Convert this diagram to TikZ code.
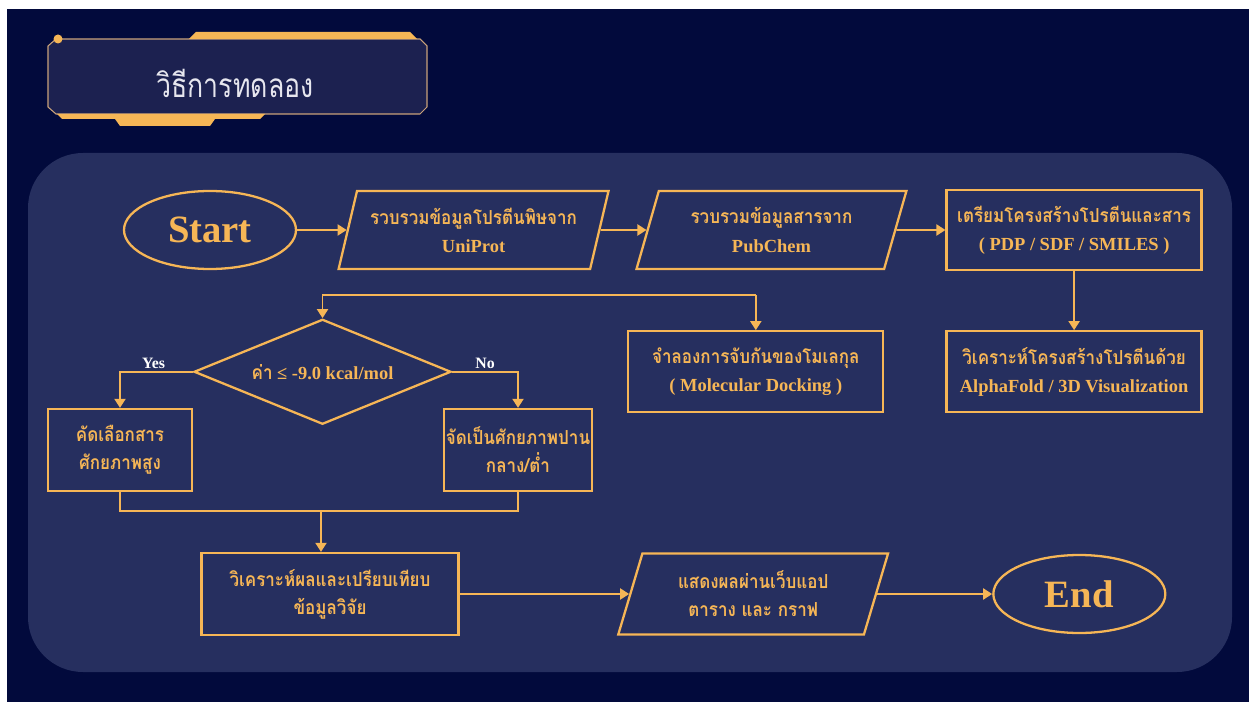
\documentclass[tikz,border=0pt]{standalone}
\usepackage{fontspec}
\setmainfont{Liberation Serif}
\newfontfamily\thaifont[Script=Thai, FakeStretch=0.88]{Loma}
\newfontfamily\titlefont[Script=Thai, FakeStretch=0.8]{Loma}
\usetikzlibrary{shapes.geometric, arrows.meta, positioning}

\definecolor{navybg}{HTML}{020A3C}
\definecolor{panelbg}{HTML}{262F5F}
\definecolor{gold}{HTML}{F6B656}
\definecolor{titlebg}{HTML}{1C2150}
\definecolor{titleline}{HTML}{C9A27A}
\definecolor{titletext}{HTML}{E6E6EE}

\newcommand{\thaitxt}[1]{{\thaifont\bfseries\fontsize{11}{16}\selectfont #1}}

\begin{document}
\begin{tikzpicture}[
    node distance=1.05cm,
    every node/.style={text=gold, font=\bfseries\fontsize{10.5}{16}\selectfont},
    terminal/.style={ellipse, minimum width=3.44cm, minimum height=1.56cm, draw=gold, line width=1.3pt, font=\bfseries\fontsize{22}{26}\selectfont},
    io/.style={trapezium, trapezium left angle=73, trapezium right angle=107, trapezium stretches=true, minimum width=5.4cm, minimum height=1.56cm, draw=gold, line width=1.3pt, align=center},
    process/.style={rectangle, minimum width=5.1cm, minimum height=1.6cm, inner xsep=1pt, draw=gold, line width=1.3pt, align=center},
    smallbox/.style={process, minimum width=2.88cm, minimum height=1.64cm},
    decision/.style={diamond, aspect=2.45, minimum width=5.14cm, minimum height=2.1cm, draw=gold, line width=1.3pt, inner sep=0pt},
    arrow/.style={-{Triangle[length=1.8mm, width=2.2mm]}, draw=gold, line width=1.1pt},
    line/.style={draw=gold, line width=1.1pt},
    answer/.style={text=white, inner sep=1.5pt, font=\bfseries\fontsize{9}{10}\selectfont}
]

% Background and panel
\useasboundingbox (0,0) rectangle (24.98,-14.04);
\fill[white] (0,0) rectangle (24.98,-14.04);
\fill[navybg] (0.14,-0.18) rectangle (24.98,-14.04);
\fill[panelbg, rounded corners=1.1cm] (0.56,-3.06) rectangle (24.64,-13.44);

% Title banner
\filldraw[fill=titlebg, draw=titleline, line width=0.6pt] (1.12,-0.78) -- (8.4,-0.78) -- (8.54,-0.92) -- (8.54,-2.14) -- (8.4,-2.28) -- (1.12,-2.28) -- (0.96,-2.14) -- (0.96,-0.92) -- cycle;
\fill[gold] (3.78,-0.78) -- (3.92,-0.64) -- (8.2,-0.64) -- (8.34,-0.78) -- cycle;
\fill[gold] (1.14,-2.28) -- (5.3,-2.28) -- (5.2,-2.38) -- (4.3,-2.38) -- (4.2,-2.52) -- (2.4,-2.52) -- (2.3,-2.38) -- (1.24,-2.38) -- cycle;
\fill[gold] (1.16,-0.78) circle (0.09);
\node[text=titletext, font=\titlefont\fontsize{19}{24}\selectfont] (title) at (4.7,-1.66) {วิธีการทดลอง};

% Top row
\node[terminal] (start) at (4.2,-4.6) {Start};
\node[io, right=0.99cm of start] (uniprot) {\thaitxt{รวบรวมข้อมูลโปรตีนพิษจาก}\\UniProt};
\node[io, right=0.92cm of uniprot] (pubchem) {\thaitxt{รวบรวมข้อมูลสารจาก}\\PubChem};
\node[process, right=0.98cm of pubchem] (prep) {\thaitxt{เตรียมโครงสร้างโปรตีนและสาร}\\( PDP / SDF / SMILES )};

% Middle row
\node[process, below=1.18cm of prep, minimum height=1.62cm] (viz) {\thaitxt{วิเคราะห์โครงสร้างโปรตีนด้วย}\\AlphaFold / 3D Visualization};
\node[process, left=1.22cm of viz, minimum height=1.62cm] (dock) {\thaitxt{จำลองการจับกันของโมเลกุล}\\( Molecular Docking )};
\node[decision, left=3.5cm of dock] (check) {\thaitxt{ค่า} ≤ -9.0 kcal/mol};
\node[smallbox] (high) at (2.4,-9.0) {\thaitxt{คัดเลือกสาร}\\\thaitxt{ศักยภาพสูง}};
\node[smallbox] (low) at (10.36,-9.0) {\thaitxt{จัดเป็นศักยภาพปาน}\\\thaitxt{กลาง/ต่ำ}};

% Bottom row
\node[process, minimum height=1.64cm, minimum width=5.14cm] (compare) at (6.6,-11.88) {\thaitxt{วิเคราะห์ผลและเปรียบเทียบ}\\\thaitxt{ข้อมูลวิจัย}};
\node[io, right=3.39cm of compare, minimum height=1.62cm] (webapp) {\thaitxt{แสดงผลผ่านเว็บแอป}\\\thaitxt{ตาราง และ กราฟ}};
\node[terminal, right=2.3cm of webapp] (end) {End};

% Arrows
\draw[arrow] (start) -- (uniprot);
\draw[arrow] (uniprot) -- (pubchem);
\draw[arrow] (pubchem) -- (prep);
\draw[arrow] (prep) -- (viz);

\coordinate[above=0.7cm of dock] (split);
\draw[arrow] (split) -- (dock);
\draw[arrow] (split) -| (check.north);

\draw[arrow] (check.west) -| node[answer, pos=0.27, above] {Yes} (high.north);
\draw[arrow] (check.east) -| node[answer, pos=0.25, above] {No} (low.north);

\coordinate (join) at (6.42,-10.22);
\draw[line] (high.south) |- (join) -| (low.south);
\draw[arrow] (join) -- (join |- compare.north);

\draw[arrow] (compare) -- (webapp);
\draw[arrow] (webapp) -- (end);

\end{tikzpicture}
\end{document}
